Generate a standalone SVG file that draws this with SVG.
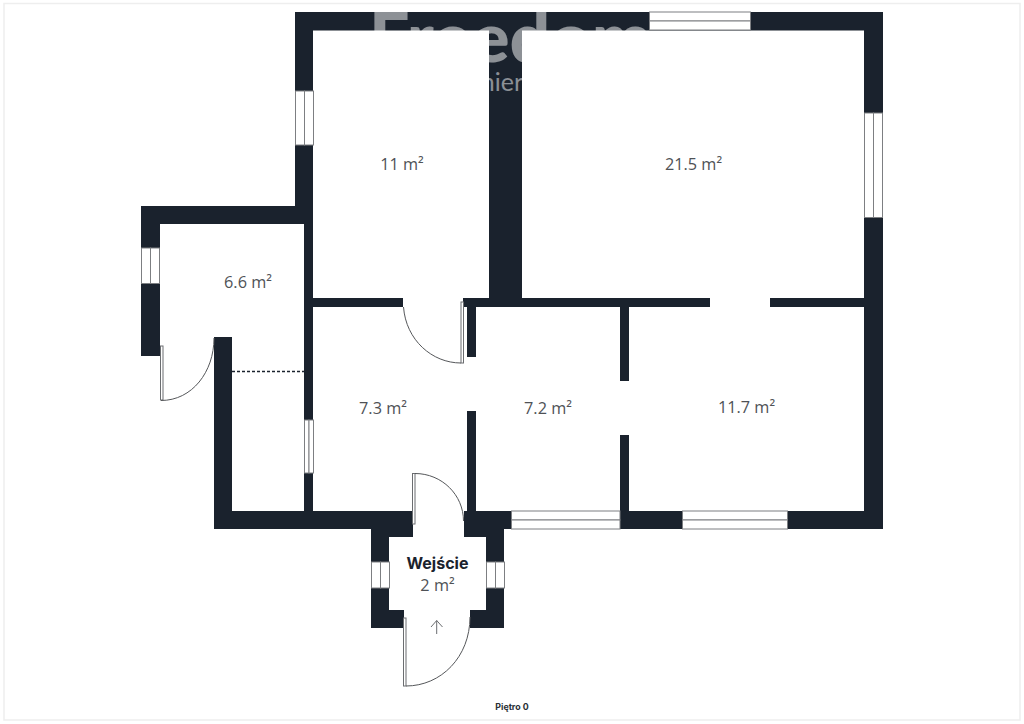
<svg xmlns="http://www.w3.org/2000/svg" width="1024" height="724" viewBox="0 0 1024 724">
<style>
.wall{fill:#1a222d}
.win{fill:#fff;stroke:#7d7f82;stroke-width:1}
.leaf{fill:#fff;stroke:#6b6d70;stroke-width:1}
.arc{fill:none;stroke:#55575a;stroke-width:1}
.area{font-family:"Open Sans",sans-serif;font-size:16.300px;fill:#4f5256;text-anchor:middle}
.wm{font-family:"Lato",sans-serif;fill:#fff;fill-opacity:.5}
</style>
<rect width="1024" height="724" fill="#fff"/>
<rect x="4" y="3.500" width="1016" height="716.500" fill="none" stroke="#eeeeee" stroke-width="1.500"/>
<g id="walls">
<path class="wall" d="M295 12H883V529H620V435H629V511H864V307H770V298H864V30.500H522V298H710V307H629V381H620V307H476V357H467V307H463V298H489V30.500H313V298H403V307H313V511H413V537H389V610H404V628H371V529H214V337H232V511H304V224H160V356H141V206H295Z"/>
<path class="wall" d="M467 411H476V511H620V529H504V628H470V610H486V537H464V511H467Z"/>
</g>
<g id="watermark">
<text class="wm" x="369" y="62" font-size="68" font-weight="900" textLength="283" lengthAdjust="spacingAndGlyphs">Freedom</text>
<text class="wm" x="523" y="91" font-size="25" text-anchor="end">nier</text>
</g>
<g id="windows">
<rect class="win" x="649.500" y="12" width="101" height="9"/><rect class="win" x="649.500" y="21" width="101" height="9"/>
<rect class="win" x="864.500" y="113" width="9" height="104.500"/><rect class="win" x="873.500" y="113" width="9" height="104.500"/>
<rect class="win" x="295.500" y="91" width="9" height="54"/><rect class="win" x="304.500" y="91" width="9" height="54"/>
<rect class="win" x="141.500" y="248" width="9" height="35.500"/><rect class="win" x="150.500" y="248" width="9" height="35.500"/>
<rect class="win" x="304.500" y="420" width="4.500" height="53"/><rect class="win" x="309" y="420" width="4.500" height="53"/>
<rect class="win" x="511.500" y="511" width="108.500" height="9"/><rect class="win" x="511.500" y="520" width="108.500" height="9"/>
<rect class="win" x="682.500" y="511" width="105" height="9"/><rect class="win" x="682.500" y="520" width="105" height="9"/>
<rect class="win" x="371.500" y="562" width="9" height="26"/><rect class="win" x="380.500" y="562" width="9" height="26"/>
<rect class="win" x="486.500" y="562" width="9" height="26"/><rect class="win" x="495.500" y="562" width="9" height="26"/>
</g>
<g id="doors">
<rect class="leaf" x="160.500" y="346" width="2.500" height="54"/>
<path class="arc" d="M161 400.500C192 400.500 214 372 214 338"/>
<rect class="leaf" x="461" y="302" width="2.500" height="61"/>
<path class="arc" d="M403.500 307C406 340 432 363 461 363"/>
<rect class="leaf" x="412.500" y="473.500" width="2.500" height="50.500"/>
<path class="arc" d="M415 473.500C442 473.500 463.500 495 463.500 521"/>
<rect class="leaf" x="403.500" y="618" width="2.500" height="68"/>
<path class="arc" d="M406 686C441 686 470 657 470 617"/>
<path d="M232 371.500H304" fill="none" stroke="#1a222d" stroke-width="1.500" stroke-dasharray="3 2"/>
<path d="M436.700 634V620.500M431 627L436.700 620.500L442.500 627" fill="none" stroke="#6b6d70" stroke-width="1"/>
</g>
<g id="labels">
<text class="area" x="402" y="170">11 m²</text>
<text class="area" x="693.500" y="170">21.5 m²</text>
<text class="area" x="248" y="288">6.6 m²</text>
<text class="area" x="383" y="414">7.3 m²</text>
<text class="area" x="548" y="414">7.2 m²</text>
<text class="area" x="746.500" y="413">11.7 m²</text>
<text x="437.500" y="569" font-family="Inter,sans-serif" font-size="16" font-weight="700" fill="#1a222d" text-anchor="middle">Wejście</text>
<text class="area" x="437.500" y="591">2 m²</text>
<text x="512" y="710" font-family="Inter,sans-serif" font-size="8.800" font-weight="700" fill="#2a2f36" text-anchor="middle">Piętro 0</text>
</g>
</svg>
